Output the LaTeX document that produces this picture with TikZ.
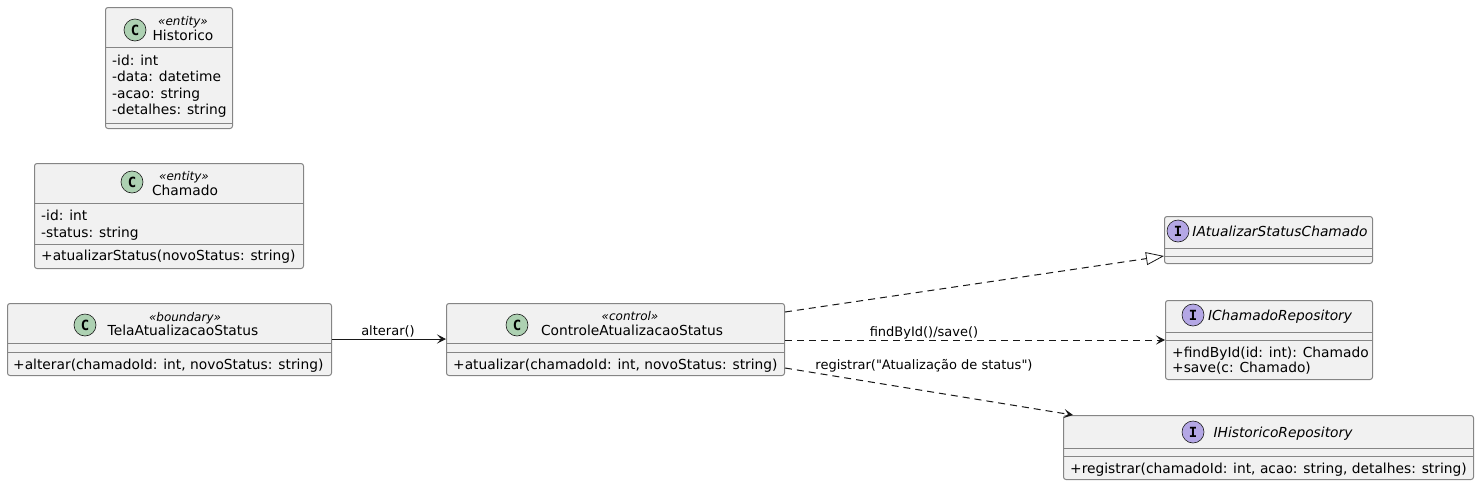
\documentclass[tikz,border=0pt]{standalone}
\usepackage{fontspec}
\newfontfamily\umlfont{DejaVu Sans}
\newfontfamily\circlefont{DejaVu Sans Mono}
\usetikzlibrary{arrows.meta}

\begin{document}
\begin{tikzpicture}[x=1pt,y=1pt]
	\definecolor{box fill}{HTML}{F1F1F1}
	\definecolor{box edge}{HTML}{858585}
	\definecolor{line col}{HTML}{181818}
	\definecolor{class mark}{HTML}{ADD1B2}
	\definecolor{iface mark}{HTML}{B4A7E5}

	\tikzset{
		umlbox/.style={draw=box edge, fill=box fill, line width=1pt, rounded corners=2.5pt, anchor=north west, inner sep=0pt},
		sepline/.style={draw=box edge, line width=1pt},
		classmark/.style={circle, draw=line col, line width=0.6pt, fill=class mark, minimum size=22pt, inner sep=0pt, font=\circlefont\bfseries\fontsize{14}{14}\selectfont},
		ifacemark/.style={classmark, fill=iface mark},
		cname/.style={anchor=base, inner sep=0pt, font=\umlfont\fontsize{13.8}{16}\selectfont},
		iname/.style={cname, font=\umlfont\fontsize{13.8}{16}\selectfont\itshape},
		stereo/.style={anchor=base, inner sep=0pt, font=\umlfont\fontsize{12}{14}\selectfont\itshape},
		member/.style={anchor=base west, inner sep=0pt, font=\umlfont\fontsize{13.8}{16}\selectfont},
		lbl/.style={anchor=base, inner sep=0pt, font=\umlfont\fontsize{13}{15}\selectfont},
		assoc/.style={draw=line col, line width=1pt, -{Stealth[length=9pt, width=9pt, inset=4pt]}},
		dep/.style={assoc, dash pattern=on 7pt off 5pt},
		realize/.style={draw=line col, line width=1pt, dash pattern=on 7pt off 5pt, -{Triangle[open, length=18pt, width=13pt, line width=0.8pt]}},
	}

	\useasboundingbox (0,0) rectangle (1479,-485);

	% Historico
	\node[umlbox, minimum width=127pt, minimum height=121pt] (hist) at (105,-7) {};
	\node[classmark] (histC) at (135,-30) {C};
	\node[stereo] (histS) at (183,-25) {«entity»};
	\node[cname] (histN) at (183,-40) {Historico};
	\draw[sepline] ([yshift=-40pt]hist.north west) -- ([yshift=-40pt]hist.north east);
	\node[member] (histA) at (112,-65) {-id: int};
	\node[member] (histB) at (112,-81.5) {-data: datetime};
	\node[member] (histD) at (112,-98) {-acao: string};
	\node[member] (histE) at (112,-114.5) {-detalhes: string};
	\draw[sepline] ([yshift=6pt]hist.south west) -- ([yshift=6pt]hist.south east);

	% Chamado
	\node[umlbox, minimum width=269pt, minimum height=105pt] (cham) at (34,-163) {};
	\node[classmark] (chamC) at (132,-182) {C};
	\node[stereo] (chamS) at (184,-180) {«entity»};
	\node[cname] (chamN) at (185,-195) {Chamado};
	\draw[sepline] ([yshift=-40pt]cham.north west) -- ([yshift=-40pt]cham.north east);
	\node[member] (chamA) at (41,-220) {-id: int};
	\node[member] (chamB) at (41,-237) {-status: string};
	\draw[sepline] ([yshift=25pt]cham.south west) -- ([yshift=25pt]cham.south east);
	\node[member] (chamM) at (41,-260) {+atualizarStatus(novoStatus: string)};

	% TelaAtualizacaoStatus
	\node[umlbox, minimum width=324pt, minimum height=72pt] (tela) at (7,-303) {};
	\node[classmark] (telaC) at (85,-325) {C};
	\node[stereo] (telaS) at (185,-321) {«boundary»};
	\node[cname] (telaN) at (183,-335) {TelaAtualizacaoStatus};
	\draw[sepline] ([yshift=-40pt]tela.north west) -- ([yshift=-40pt]tela.north east);
	\draw[sepline] ([yshift=-49pt]tela.north west) -- ([yshift=-49pt]tela.north east);
	\node[member] (telaM) at (13,-369) {+alterar(chamadoId: int, novoStatus: string)};

	% ControleAtualizacaoStatus
	\node[umlbox, minimum width=338pt, minimum height=72pt] (ctrl) at (446,-303) {};
	\node[classmark] (ctrlC) at (517,-325) {C};
	\node[stereo] (ctrlS) at (630,-320) {«control»};
	\node[cname] (ctrlN) at (632,-335) {ControleAtualizacaoStatus};
	\draw[sepline] ([yshift=-40pt]ctrl.north west) -- ([yshift=-40pt]ctrl.north east);
	\draw[sepline] ([yshift=-49pt]ctrl.north west) -- ([yshift=-49pt]ctrl.north east);
	\node[member] (ctrlM) at (453,-369) {+atualizar(chamadoId: int, novoStatus: string)};

	% IAtualizarStatusChamado
	\node[umlbox, minimum width=208pt, minimum height=47pt] (iasc) at (1164,-216) {};
	\node[ifacemark] (iascI) at (1178,-231) {I};
	\node[iname] (iascN) at (1280,-236) {IAtualizarStatusChamado};
	\draw[sepline] ([yshift=-32pt]iasc.north west) -- ([yshift=-32pt]iasc.north east);
	\draw[sepline] ([yshift=-40pt]iasc.north west) -- ([yshift=-40pt]iasc.north east);

	% IChamadoRepository
	\node[umlbox, minimum width=207pt, minimum height=79pt] (icr) at (1165,-300) {};
	\node[ifacemark] (icrI) at (1193,-315) {I};
	\node[iname] (icrN) at (1280,-320) {IChamadoRepository};
	\draw[sepline] ([yshift=-32pt]icr.north west) -- ([yshift=-32pt]icr.north east);
	\draw[sepline] ([yshift=-40pt]icr.north west) -- ([yshift=-40pt]icr.north east);
	\node[member] (icrA) at (1172,-357) {+findById(id: int): Chamado};
	\node[member] (icrB) at (1172,-372) {+save(c: Chamado)};

	% IHistoricoRepository
	\node[umlbox, minimum width=410pt, minimum height=64pt] (ihr) at (1063,-415) {};
	\node[ifacemark] (ihrI) at (1193,-432) {I};
	\node[iname] (ihrN) at (1283,-437) {IHistoricoRepository};
	\draw[sepline] ([yshift=-33pt]ihr.north west) -- ([yshift=-33pt]ihr.north east);
	\draw[sepline] ([yshift=-41pt]ihr.north west) -- ([yshift=-41pt]ihr.north east);
	\node[member] (ihrM) at (1070,-473) {+registrar(chamadoId: int, acao: string, detalhes: string)};

	% relations
	\draw[assoc] ([yshift=-36pt]tela.north east) -- ([yshift=-36pt]ctrl.north west);
	\node[lbl] (alterarL) at (388,-335.5) {alterar()};
	\draw[realize] ([yshift=-9pt]ctrl.north east) -- ([yshift=-40pt]iasc.north west);
	\draw[dep] ([yshift=-37pt]ctrl.north east) -- ([yshift=-40pt]icr.north west);
	\node[lbl] (findL) at (924,-336.5) {findById()/save()};
	\draw[dep] ([yshift=-65pt]ctrl.north east) -- ([xshift=10pt]ihr.north west);
	\node[lbl] (regL) at (924,-369.5) {registrar("Atualização de status")};
\end{tikzpicture}
\end{document}
